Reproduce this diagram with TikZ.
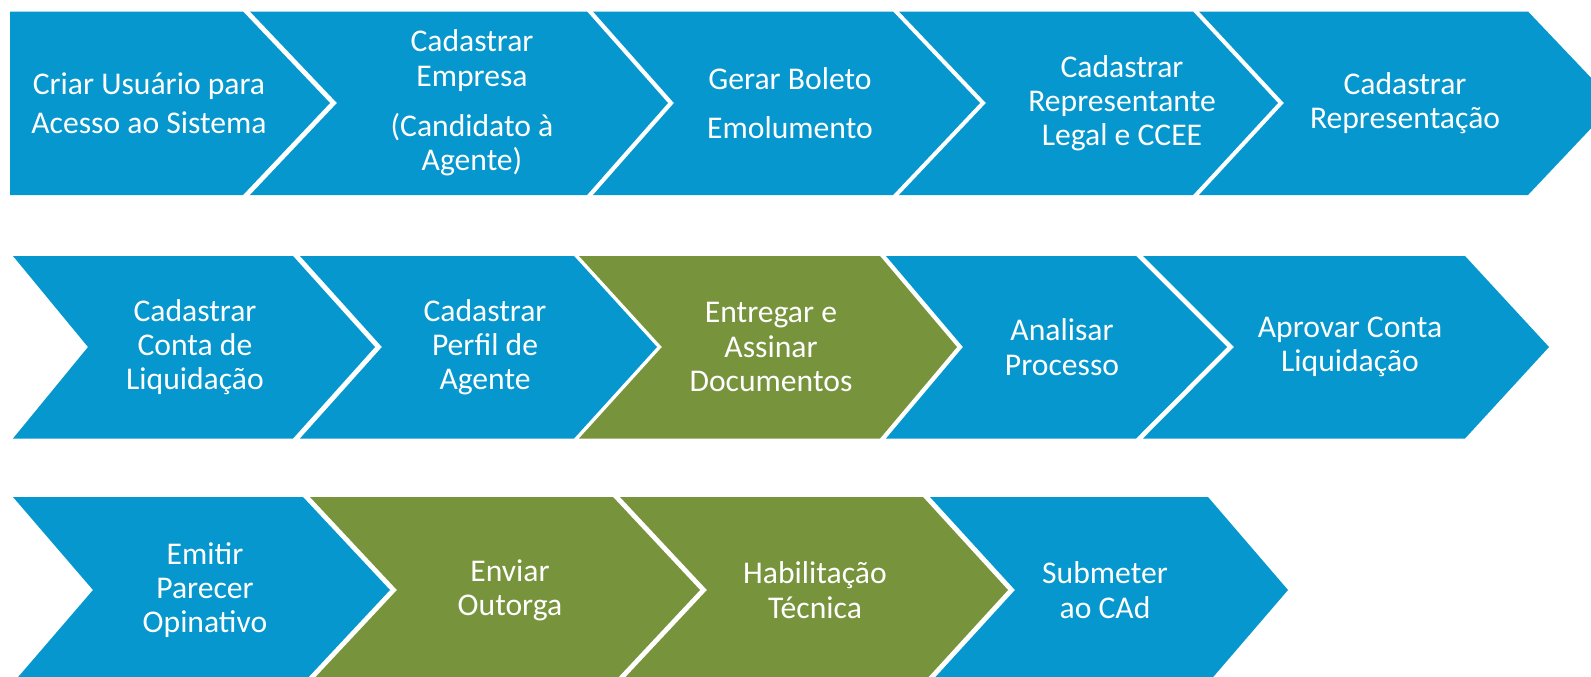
\documentclass[tikz,border=0pt]{standalone}
\usepackage{fontspec}
\setmainfont{Carlito}
\usetikzlibrary{positioning}
\definecolor{stepblue}{HTML}{0597CD}
\definecolor{stepgreen}{HTML}{77933C}

\begin{document}
\begin{tikzpicture}[x=0.02cm, y=-0.02cm,
    % Chevrons are plain fills, separated by a thin white gap
    chevron blue/.style={fill=stepblue},
    chevron green/.style={fill=stepgreen},
    % White centred text inside each chevron
    chevron text/.style={text=white, align=center, inner sep=0pt,
      font=\fontsize{18}{19.5}\selectfont}
  ]
  % --- Page frame (shapes on the right and bottom run off the page) ---
  \clip (0,0) rectangle (1591,676);

  % --- Row 1 ---
  \def\Ytop{11.5} % top edge
  \def\Ybot{195}  % bottom edge
  \def\Ymid{103}  % tip height
  \fill[chevron blue] (10,\Ytop) -- (243,\Ytop) -- (330,\Ymid) -- (243,\Ybot) -- (10,\Ybot) -- cycle;
  \fill[chevron blue] (250,\Ytop) -- (587,\Ytop) -- (668,\Ymid) -- (587,\Ybot) -- (250,\Ybot) -- (337,\Ymid) -- cycle;
  \fill[chevron blue] (593,\Ytop) -- (893,\Ytop) -- (980,\Ymid) -- (893,\Ybot) -- (593,\Ybot) -- (674,\Ymid) -- cycle;
  \fill[chevron blue] (899,\Ytop) -- (1193,\Ytop) -- (1278,\Ymid) -- (1193,\Ybot) -- (899,\Ybot) -- (986,\Ymid) -- cycle;
  \fill[chevron blue] (1199,\Ytop) -- (1528,\Ytop) -- (1615,\Ymid) -- (1528,\Ybot) -- (1199,\Ybot) -- (1284,\Ymid) -- cycle;

  \node[chevron text] (criar) at (149,\Ymid) {Criar Usuário para\\[2.7pt] Acesso ao Sistema};
  \node[chevron text] (empresa) at (472,\Ymid) {Cadastrar\\ Empresa\\[9pt] (Candidato à\\ Agente)};
  \node[chevron text] (boleto) at (790,\Ymid) {Gerar Boleto\\[8.5pt] Emolumento};
  \node[chevron text] (legal) at (1122,\Ymid) {Cadastrar\\ Representante\\ Legal e CCEE};
  \node[chevron text] (represent) at (1405,\Ymid) {Cadastrar\\ Representação};

  % --- Row 2 ---
  \def\Ytop{256}
  \def\Ybot{438.5}
  \def\Ymid{347}
  \fill[chevron blue] (13,\Ytop) -- (293,\Ytop) -- (375,\Ymid) -- (293,\Ybot) -- (13,\Ybot) -- (88,\Ymid) -- cycle;
  \fill[chevron blue] (300,\Ytop) -- (574,\Ytop) -- (657,\Ymid) -- (574,\Ybot) -- (300,\Ybot) -- (382,\Ymid) -- cycle;
  \fill[chevron green] (579,\Ytop) -- (880,\Ytop) -- (957,\Ymid) -- (880,\Ybot) -- (579,\Ybot) -- (662,\Ymid) -- cycle;
  \fill[chevron blue] (886,\Ytop) -- (1136,\Ytop) -- (1227,\Ymid) -- (1136,\Ybot) -- (886,\Ybot) -- (963,\Ymid) -- cycle;
  \fill[chevron blue] (1143,\Ytop) -- (1465,\Ytop) -- (1549,\Ymid) -- (1465,\Ybot) -- (1143,\Ybot) -- (1234,\Ymid) -- cycle;

  \node[chevron text] (conta) at (195,\Ymid) {Cadastrar\\ Conta de\\ Liquidação};
  \node[chevron text] (perfil) at (485,\Ymid) {Cadastrar\\ Perfil de\\ Agente};
  \node[chevron text] (entregar) at (771,\Ymid) {Entregar e\\ Assinar\\ Documentos};
  \node[chevron text] (analisar) at (1062,\Ymid) {Analisar\\ Processo};
  \node[chevron text] (aprovar) at (1350,\Ymid) {Aprovar Conta\\ Liquidação};

  % --- Row 3 ---
  \def\Ytop{497}
  \def\Ybot{683}
  \def\Ymid{590}
  \fill[chevron blue] (13,\Ytop) -- (303,\Ytop) -- (390,\Ymid) -- (303,\Ybot) -- (13,\Ybot) -- (93,\Ymid) -- cycle;
  \fill[chevron green] (310,\Ytop) -- (613,\Ytop) -- (700,\Ymid) -- (613,\Ybot) -- (310,\Ybot) -- (397,\Ymid) -- cycle;
  \fill[chevron green] (620,\Ytop) -- (923,\Ytop) -- (1008,\Ymid) -- (923,\Ybot) -- (620,\Ybot) -- (707,\Ymid) -- cycle;
  \fill[chevron blue] (930,\Ytop) -- (1208,\Ytop) -- (1288,\Ymid) -- (1208,\Ybot) -- (930,\Ybot) -- (1015,\Ymid) -- cycle;

  \node[chevron text] (parecer) at (205,\Ymid) {Emitir\\ Parecer\\ Opinativo};
  \node[chevron text] (outorga) at (510,\Ymid) {Enviar\\ Outorga};
  \node[chevron text] (habilita) at (815,\Ymid) {Habilitação\\ Técnica};
  \node[chevron text] (submeter) at (1105,\Ymid) {Submeter\\ ao CAd};
\end{tikzpicture}
\end{document}
